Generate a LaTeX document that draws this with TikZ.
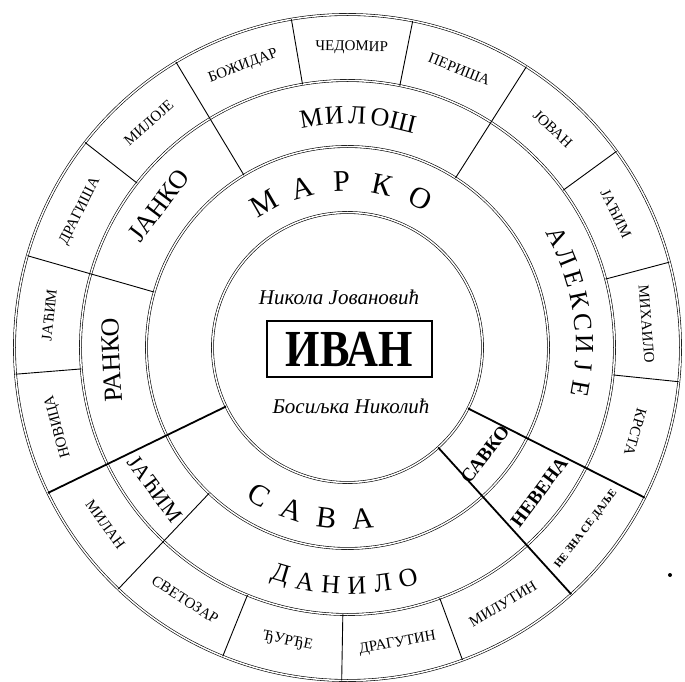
\documentclass[tikz,border=0pt]{standalone}
\usepackage{fontspec}
\setmainfont{Liberation Serif}

\begin{document}
\begin{tikzpicture}[
    x=1pt, y=1pt,
    ring/.style={draw=black, double=white, double distance=1.5pt, line width=0.6pt},
    spoke/.style={draw=black, line width=0.9pt},
    border/.style={draw=black, line width=1.8pt},
    outname/.style={font=\fontsize{15}{15}\selectfont, inner sep=0pt},
    tinyname/.style={font=\fontsize{11}{11}\selectfont\bfseries, inner sep=0pt},
    midname/.style={font=\fontsize{26}{26}\selectfont, inner sep=0pt},
    innername/.style={font=\fontsize{30}{30}\selectfont, inner sep=0pt},
    boldname/.style={font=\fontsize{19}{19}\selectfont\bfseries, inner sep=0pt},
    script/.style={font=\fontsize{21}{21}\selectfont\itshape, inner sep=0pt},
    namebox/.style={draw=black, line width=1.2pt, minimum width=165pt, minimum height=56pt, inner sep=0pt}
]
    \useasboundingbox (-347.5,-334.5) rectangle (337.5,347.5);

    % rings
    \foreach \r in {135,201,267,333}
        \draw[ring] (0,0) circle (\r);

    % dividers
    \foreach \a in {205.9,-26.8,-47.8}
        \draw[border] (\a:135) -- (\a:333);
    \foreach \a in {57.5,121,164,226.5}
        \draw[spoke] (\a:201) -- (\a:333);
    \foreach \a in {78.7,99.7,142,184.6,248,269,290.2,-5.9,14.85,36.1}
        \draw[spoke] (\a:267) -- (\a:333);

    % centre
    \node[script] (father) at (-8.5,50.5) {Никола Јовановић};
    \node[namebox] (child) at (2,-1.5) {\fontsize{52}{52}\selectfont\bfseries\scalebox{0.85}[1]{ИВАН}};
    \node[script] (mother) at (3.5,-58.5) {Босиљка Николић};

    % parents
    \foreach \ch [count=\i, evaluate=\i as \a using 134-14*\i] in {М,А,Р,К,О}
        \node[innername, rotate=\a-90] (marko\i) at (\a:166) {\ch};
    \foreach \ch [count=\i, evaluate=\i as \a using 227+12*\i] in {С,А,В,А}
        \node[innername, rotate=\a+90] (sava\i) at (\a:172) {\ch};
    \node[boldname, rotate=412.2] (savko) at (322.2:174) {САВКО};

    % grandparents
    \foreach \ch [count=\i, evaluate=\i as \a using 104.7-5.7*\i] in {М,И,Л,О,Ш}
        \node[midname, rotate=\a-90] (milos\i) at (\a:232) {\ch};
    \foreach \ch [count=\i, evaluate=\i as \a using 33.2-5.4*\i] in {А,Л,Е,К,С,И,Ј,Е}
        \node[midname, rotate=\a-90] (aleksije\i) at (\a:237) {\ch};
    \foreach \ch [count=\i, evaluate=\i as \a using 247.25+6.25*\i] in {Д,А,Н,И,Л,О}
        \node[midname, rotate=\a+90] (danilo\i) at (\a:238) {\ch};
    \node[midname, rotate=53] (janko) at (143:236) {ЈАНКО};
    \node[midname, rotate=93] (ranko) at (183:236) {РАНКО};
    \node[font=\fontsize{22}{22}\selectfont, inner sep=0pt, rotate=306.3] (jacim) at (216.3:239) {ЈАЋИМ};
    \node[boldname, rotate=413] (nevena) at (323:240) {НЕВЕНА};

    % great-grandparents
    \foreach \name/\a [count=\k] in {ПЕРИША/68.1, ЧЕДОМИР/89.2, БОЖИДАР/110.35, МИЛОЈЕ/131.5,
            ДРАГИША/153, ЈАЋИМ/173.8, НОВИЦА/195.25, ЈОВАН/46.8, ЈАЋИМ/26.5,
            МИХАИЛО/4.5, КРСТА/-16.35}
        \node[outname, rotate=\a-90] (upper\k) at (\a:300) {\name};
    \foreach \name/\a [count=\k] in {МИЛАН/216.2, СВЕТОЗАР/237.25, ЂУРЂЕ/258.5,
            ДРАГУТИН/279.6, МИЛУТИН/301.2}
        \node[outname, rotate=\a+90] (lower\k) at (\a:300) {\name};
    \node[tinyname, rotate=412.7] (unknown) at (322.7:300) {НЕ ЗНА СЕ ДАЉЕ};

    \fill (322.5,-227.5) circle (2);

\end{tikzpicture}
\end{document}
